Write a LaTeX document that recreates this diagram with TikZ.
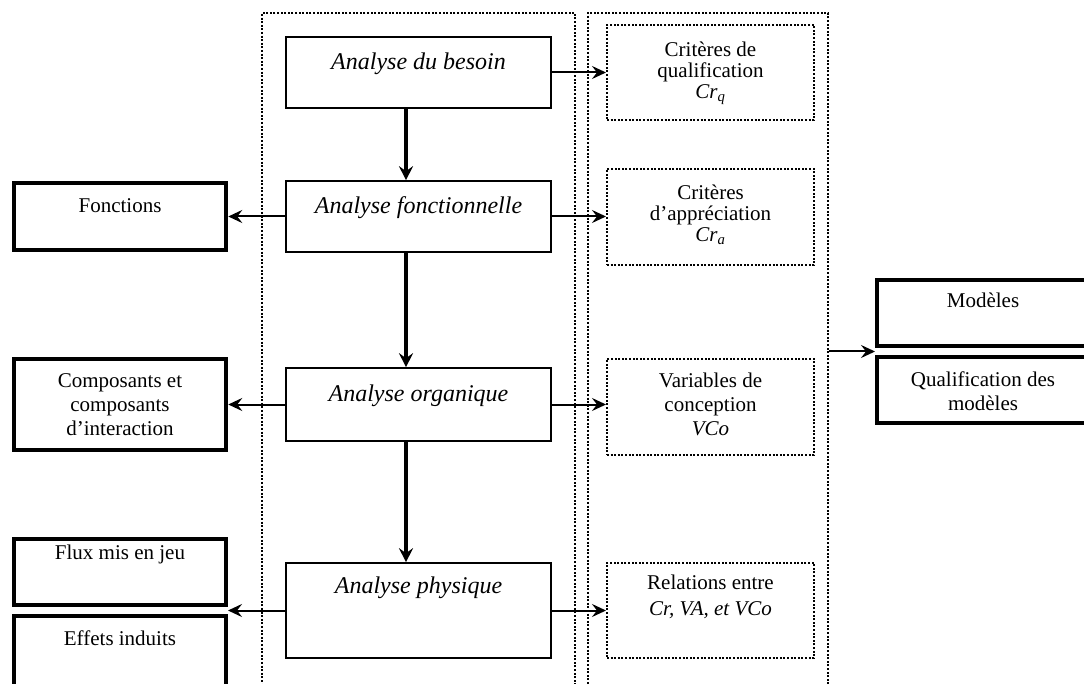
\documentclass[tikz,border=0pt]{standalone}
\usepackage{fontspec}
\setmainfont{Liberation Serif}
\usetikzlibrary{arrows.meta}
\begin{document}
\begin{tikzpicture}[x=1pt,y=-1pt,
  mainbox/.style={draw, line width=1.6pt, minimum width=265pt, inner sep=0pt},
  heavybox/.style={draw, line width=4.5pt, minimum width=212pt, inner sep=0pt},
  dotbox/.style={draw, line width=2pt, dash pattern=on 2pt off 1.6pt, minimum width=207pt, inner sep=0pt},
  colbox/.style={draw, line width=2pt, dash pattern=on 2pt off 1.6pt, inner sep=0pt},
  maintext/.style={inner sep=0pt, font=\fontsize{24}{28}\selectfont\itshape},
  btext/.style={inner sep=0pt, align=center, font=\fontsize{21}{24}\selectfont},
  crtext/.style={inner sep=0pt, align=center, font=\fontsize{21}{21}\selectfont},
  harrow/.style={line width=2pt, -{Stealth[length=14pt,width=13pt,inset=5pt]}},
  varrow/.style={line width=3.5pt, -{Stealth[length=14pt,width=14pt,inset=5pt]}}
]
\useasboundingbox (0,0) rectangle (1084,684);
\clip (0,0) rectangle (1084,684);

% columns
\node[colbox, minimum width=313pt, minimum height=687pt] (col1) at (418.5,356.5) {};
\node[colbox, minimum width=240pt, minimum height=687pt] (col2) at (708,356.5) {};

% main boxes
\node[mainbox, minimum height=71pt] (besoin) at (418.5,72.5) {};
\node[mainbox, minimum height=71pt] (fonct) at (418.5,216.5) {};
\node[mainbox, minimum height=73pt] (organ) at (418.5,404.5) {};
\node[mainbox, minimum height=95pt] (phys) at (418.5,610.5) {};
\node[maintext, anchor=base] (besoinT) at (418.5,70) {Analyse du besoin};
\node[maintext, anchor=base] (fonctT) at (418.5,214) {Analyse fonctionnelle};
\node[maintext, anchor=base] (organT) at (418.5,401) {Analyse organique};
\node[maintext, anchor=base] (physT) at (418.5,593) {Analyse physique};

% left heavy boxes
\node[heavybox, minimum height=67pt] (fonctions) at (120,216.5) {};
\node[heavybox, minimum height=91pt] (compos) at (120,404.5) {};
\node[heavybox, minimum height=66pt] (flux) at (120,572) {};
\node[heavybox, minimum height=104pt] (effets) at (120,668) {};
\node[btext, anchor=base] (fonctionsT) at (120,213) {Fonctions};
\node[btext, anchor=north] (composT) at (120,373) {Composants et\\composants\\d’interaction};
\node[btext, anchor=base] (fluxT) at (120,559) {Flux mis en jeu};
\node[btext, anchor=base] (effetsT) at (120,645) {Effets induits};

% right heavy boxes
\node[heavybox, minimum height=66pt] (modeles) at (983,313) {};
\node[heavybox, minimum height=66pt] (qualif) at (983,390) {};
\node[btext, anchor=base] (modelesT) at (983,308) {Modèles};
\node[btext, anchor=north] (qualifT) at (983,372) {Qualification des\\modèles};

% dotted boxes
\node[dotbox, minimum height=95pt] (crq) at (710.5,72.5) {};
\node[dotbox, minimum height=96pt] (cra) at (710.5,217) {};
\node[dotbox, minimum height=96pt] (vco) at (710.5,407) {};
\node[dotbox, minimum height=95pt] (rel) at (710.5,610.5) {};
\node[crtext, anchor=north] (crqT) at (710.5,42) {Critères de\\qualification\\\textit{Cr}\textsubscript{\textit{q}}};
\node[crtext, anchor=north] (craT) at (710.5,185) {Critères\\d’appréciation\\\textit{Cr}\textsubscript{\textit{a}}};
\node[btext, anchor=north] (vcoT) at (710.5,373) {Variables de\\conception\\\textit{VCo}};
\node[btext, anchor=north, font=\fontsize{21}{26}\selectfont] (relT) at (710.5,575) {Relations entre\\\textit{Cr, VA, et VCo}};

% coordinates
\coordinate (vx) at (406,0);
\coordinate (fe) at (228,610.5);
\coordinate (mq) at (875,351.5);

% vertical arrows
\draw[varrow] (besoin.south -| vx) -- (fonct.north -| vx);
\draw[varrow] (fonct.south -| vx) -- (organ.north -| vx);
\draw[varrow] (organ.south -| vx) -- (phys.north -| vx);

% horizontal arrows
\draw[harrow] (besoin.east) -- (crq.west |- besoin.east);
\draw[harrow] (fonct.east) -- (cra.west |- fonct.east);
\draw[harrow] (organ.east) -- (vco.west |- organ.east);
\draw[harrow] (phys.east) -- (rel.west |- phys.east);
\draw[harrow] (fonct.west) -- (fonctions.east |- fonct.west);
\draw[harrow] (organ.west) -- (compos.east |- organ.west);
\draw[harrow] (phys.west) -- (fe);
\draw[harrow] (col2.east |- mq) -- (mq);
\end{tikzpicture}
\end{document}
